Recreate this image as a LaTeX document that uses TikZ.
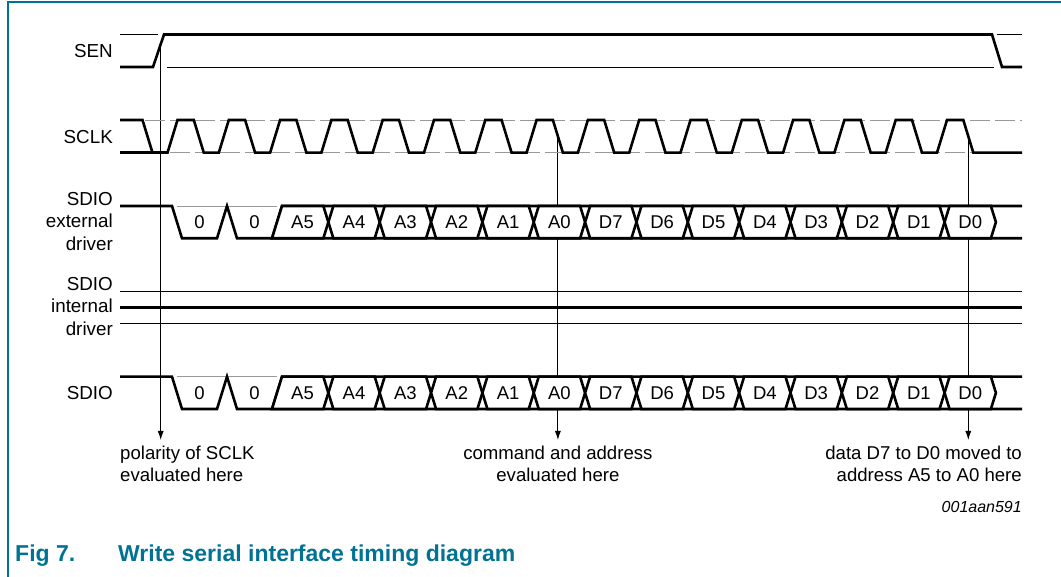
\documentclass[tikz,border=0pt]{standalone}
\usepackage{fontspec}
\setmainfont{Liberation Sans}
\usetikzlibrary{positioning,arrows.meta}
\definecolor{figblue}{RGB}{0,114,147}
\tikzset{
  wave/.style={line width=2.6pt,line join=miter},
  level/.style={line width=0.9pt},
  dimlevel/.style={line width=0.9pt,black!40},
  signame/.style={font=\fontsize{18.8}{22.5}\selectfont,align=right,anchor=east,inner sep=0pt},
  bitbox/.style={wave,fill=white},
  bittext/.style={font=\fontsize{18.5}{21}\selectfont,inner sep=0pt},
  remark/.style={font=\fontsize{18.6}{21.7}\selectfont,inner sep=0pt},
  marker/.style={line width=0.9pt,-{Latex[length=9pt,width=6pt]},shorten >=6pt},
}
\begin{document}
\begin{tikzpicture}[x=1pt,y=-1pt]
  \useasboundingbox (0,0) rectangle (1061,577);
  % frame %
  \draw[figblue,line width=1.4pt] (8,577) -- (8,2) -- (1061,2);

  % signal names %
  \node[signame] (sen) at (113,51) {SEN};
  \node[signame] (sclk) at (113,137) {SCLK};
  \node[signame] (extdrv) at (113,221.5) {SDIO\\external\\driver};
  \node[signame] (intdrv) at (113,306.5) {SDIO\\internal\\driver};
  \node[signame] (sdio) at (113,393) {SDIO};

  % remarks %
  \coordinate (polstart) at (160.7,44.3);
  \coordinate (cmdstart) at (557.9,136.4);
  \coordinate (datstart) at (968.3,136.4);
  \node[remark,anchor=north west,align=left] (polnote) at (120,446) {polarity of SCLK\\evaluated here};
  \node[remark,anchor=north,align=center] (cmdnote) at (557.9,446) {command and address\\evaluated here};
  \node[remark,anchor=north east,align=right] (datnote) at (1022,446) {data D7 to D0 moved to\\address A5 to A0 here};
  \draw[marker] (polstart) -- (polstart |- polnote.north);
  \draw[marker] (cmdstart) -- (cmdstart |- cmdnote.north);
  \draw[marker] (datstart) -- (datstart |- datnote.north);
  \node[font=\itshape\fontsize{16}{18}\selectfont,anchor=base east,inner sep=0pt] (figid) at (1022,512.7) {001aan591};

  % SEN %
  \draw[level] (120,34.5) -- (158,34.5);
  \draw[level] (167,67) -- (994,67);
  \draw[level] (997,34.5) -- (1022,34.5);
  \draw[wave] (120,67) -- (153,67) -- (164,34.5) -- (992,34.5) -- (1002,67) -- (1022,67);

  % SCLK %
  \draw[dimlevel,dash pattern=on 20pt off 5pt] (120,120) -- (1022,120);
  \draw[dimlevel,dash pattern=on 20pt off 5pt] (120,152.7) -- (1022,152.7);
  \draw[wave] (120,152.7) -- (167.5,152.7);
  \draw[wave] (120,120) -- (142.5,120)
    \foreach \k in {0,...,15} {-- ++(10,32.7) -- ++(15,0) -- ++(10,-32.7) -- ++(16.3,0)}
    -- ++(10,32.7) -- (1022,152.7);

  % SDIO internal driver %
  \draw[level] (120,291.3) -- (1022,291.3);
  \draw[wave] (120,307.3) -- (1022,307.3);
  \draw[level] (120,323) -- (1022,323);

  % SDIO buses %
  \foreach \row/\yt/\yb in {ext/206/238.3,out/376.7/409}{
    \pgfmathsetmacro\ym{(\yt+\yb)/2}
    \draw[dimlevel] (177,\yt) -- (277,\yt);
    \draw[wave] (120,\yt) -- (172,\yt) -- (182,\yb) -- (217,\yb) -- (227,\yt) -- (237,\yb) -- (272,\yb) -- (1022,\yb);
    \draw[wave] (272,\yb) -- (282,\yt) -- (1022,\yt);
    \node[bittext] (\row-b0) at (199.5,\ym) {0};
    \node[bittext] (\row-b1) at (254.5,\ym) {0};
    \filldraw[bitbox] (272,\yb) -- (282,\yt) -- (323.35,\yt) -- (328.35,\ym) -- (323.35,\yb) -- cycle;
    \node[bittext] (\row-A5) at (302.5,\ym) {A5};
    \foreach \lab [count=\k from 3] in {A4,A3,A2,A1,A0,D7,D6,D5,D4,D3,D2,D1,D0}{
      \pgfmathsetmacro\ca{174.3+51.35*\k}
      \pgfmathsetmacro\cb{\ca+51.35}
      \filldraw[bitbox] (\ca,\ym) -- (\ca+5,\yt) -- (\cb-5,\yt) -- (\cb,\ym) -- (\cb-5,\yb) -- (\ca+5,\yb) -- cycle;
      \node[bittext] (\row-\lab) at ({(\ca+\cb)/2},\ym) {\lab};
    }
  }

  % caption %
  \node[font=\bfseries\fontsize{23}{27}\selectfont,text=figblue,anchor=base west,inner sep=0pt] (fignum) at (15,561) {Fig 7.};
  \node[font=\bfseries\fontsize{23}{27}\selectfont,text=figblue,anchor=base west,inner sep=0pt] (figtitle) at (118,561) {Write serial interface timing diagram};
\end{tikzpicture}
\end{document}
